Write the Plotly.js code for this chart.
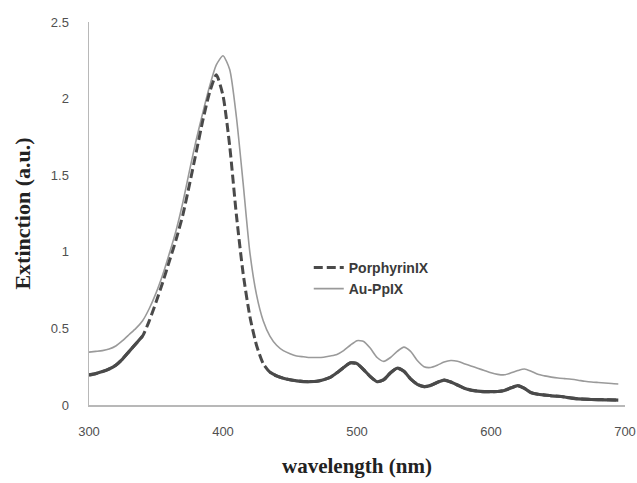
<!DOCTYPE html>
<html>
<head>
<meta charset="utf-8">
<script src="https://cdn.plot.ly/plotly-3.0.1.min.js"></script>
<style>html,body{margin:0;padding:0;background:#fff}#chart{width:637px;height:483px}</style>
</head>
<body>
<div id="chart"></div>
<script>
var wavelength = [300,305,310,315,320,325,330,335,340,345,350,355,360,365,370,375,380,385,390,395,
  400,405,410,415,420,425,430,435,440,445,450,455,460,465,470,475,480,485,490,495,
  500,505,510,515,520,525,530,535,540,545,550,555,560,565,570,575,580,585,590,595,
  600,605,610,615,620,625,630,635,640,645,650,655,660,665,670,675,680,685,690,695];

var porphyrinIX = [0.196,0.205,0.218,0.235,0.26,0.30,0.35,0.40,0.45,0.55,0.67,0.80,0.94,1.08,1.24,1.44,1.65,1.86,2.04,2.155,
  2.02,1.69,1.24,0.86,0.58,0.39,0.27,0.215,0.19,0.175,0.165,0.158,0.153,0.152,0.155,0.165,0.18,0.21,0.245,0.275,
  0.27,0.23,0.185,0.152,0.165,0.21,0.24,0.22,0.17,0.135,0.12,0.128,0.148,0.163,0.15,0.13,0.11,0.097,0.09,0.087,
  0.087,0.088,0.095,0.112,0.126,0.108,0.08,0.07,0.065,0.06,0.057,0.052,0.045,0.04,0.038,0.036,0.035,0.034,0.033,0.032];

var auPpIX = [0.345,0.35,0.355,0.365,0.385,0.42,0.46,0.50,0.55,0.63,0.73,0.85,0.99,1.14,1.32,1.53,1.73,1.91,2.08,2.22,
  2.28,2.19,1.88,1.45,1.00,0.72,0.55,0.45,0.39,0.355,0.335,0.32,0.315,0.31,0.31,0.312,0.32,0.33,0.355,0.39,
  0.42,0.415,0.37,0.31,0.285,0.31,0.35,0.378,0.35,0.29,0.25,0.245,0.26,0.28,0.29,0.285,0.27,0.255,0.24,0.225,
  0.21,0.2,0.197,0.21,0.225,0.235,0.22,0.2,0.19,0.182,0.176,0.172,0.168,0.162,0.155,0.15,0.147,0.144,0.14,0.137];

var xTicks = [300,400,500,600,700];
var yTicks = [0,0.5,1,1.5,2,2.5];
var yTickText = ['0','0.5','1','1.5','2','2.5'];

// the flat parts of the PorphyrinIX curve render as a solid thick line in the reference
var porphyrinSolid = porphyrinIX.map(function(v, i){
  var w = wavelength[i];
  return (w <= 340 || w >= 435) ? v : null;
});

var traces = [
  {x: wavelength, y: auPpIX, name: 'Au-PpIX', mode: 'lines',
   line: {color: '#9a9a9a', width: 1.6, shape: 'spline', smoothing: 0.6}},
  {x: wavelength, y: porphyrinIX, name: 'PorphyrinIX', mode: 'lines',
   line: {color: '#4a4a4a', width: 3, dash: '9px,4px', shape: 'spline', smoothing: 0.6}},
  {x: wavelength, y: porphyrinSolid, name: 'PorphyrinIX', mode: 'lines', showlegend: false,
   connectgaps: false,
   line: {color: '#4a4a4a', width: 3.2, shape: 'spline', smoothing: 0.6}}
];

var layout = {
  width: 637, height: 483,
  margin: {l: 89, r: 12, t: 22, b: 78},
  paper_bgcolor: '#fff', plot_bgcolor: '#fff',
  showlegend: true,
  legend: {x: 0.41, y: 0.40, xanchor: 'left', yanchor: 'top', traceorder: 'reversed',
    font: {family: 'Liberation Sans, Arial, sans-serif', size: 14, color: '#3a3a3a', weight: 'bold'},
    bgcolor: 'rgba(0,0,0,0)'},
  xaxis: {
    range: [300, 700], tickvals: xTicks, ticktext: xTicks.map(String),
    showgrid: false, zeroline: false, showline: true, linecolor: '#b8b8b8', linewidth: 1.5,
    ticks: 'outside', ticklen: 14, tickcolor: 'rgba(0,0,0,0)',
    tickfont: {family: 'Liberation Sans Narrow, Liberation Sans, Arial, sans-serif', size: 13, color: '#505050'},
    title: {text: 'wavelength (nm)', standoff: 20,
      font: {family: 'Liberation Serif, Times New Roman, serif', size: 21, color: '#222', weight: 'bold'}}
  },
  yaxis: {
    range: [0, 2.5], tickvals: yTicks, ticktext: yTickText,
    showgrid: false, zeroline: false, showline: true, linecolor: '#b8b8b8', linewidth: 1.5,
    ticks: 'outside', ticklen: 16, tickcolor: 'rgba(0,0,0,0)',
    tickfont: {family: 'Liberation Sans Narrow, Liberation Sans, Arial, sans-serif', size: 13, color: '#505050'},
    title: {text: 'Extinction (a.u.)', standoff: 14,
      font: {family: 'Liberation Serif, Times New Roman, serif', size: 22, color: '#222', weight: 'bold'}}
  }
};

Plotly.newPlot('chart', traces, layout, {displayModeBar: false, staticPlot: true});
</script>
</body>
</html>
